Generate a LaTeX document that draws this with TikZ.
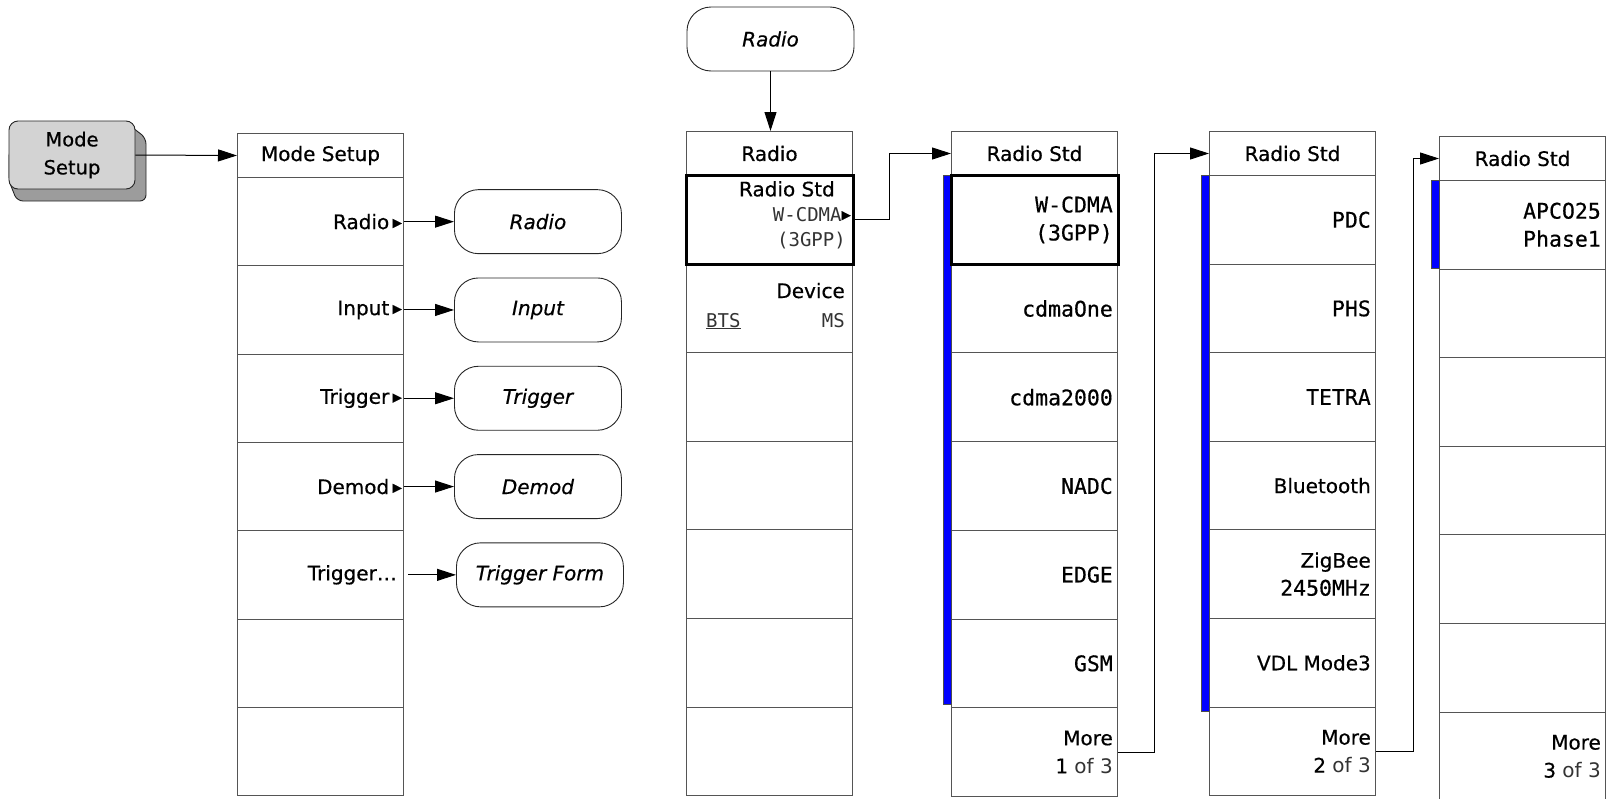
\documentclass[tikz,border=0pt]{standalone}
\usepackage{fontspec}
\setmainfont{DejaVu Sans}[FakeBold=0.5]
\newfontfamily\monof{DejaVu Sans Mono}[FakeBold=0.5]
\newfontfamily\thinf{DejaVu Sans Mono}
\newfontfamily\thinsans{DejaVu Sans}
\usetikzlibrary{arrows.meta}
\definecolor{keyfront}{HTML}{D3D3D3}
\definecolor{keyback}{HTML}{9C9C9C}
\definecolor{barblue}{HTML}{0000FF}
\definecolor{linegray}{HTML}{555555}
\definecolor{thingray}{HTML}{333333}
\newcommand\sansz{\fontsize{20}{28}\selectfont}
\newcommand\monosz{\monof\fontsize{21.5}{28}\selectfont}
\newcommand\thn[1]{{\thinf\color{thingray}#1}}
\newcommand\thns[1]{{\thinsans\color{thingray}#1}}
\newcommand\tri{\raisebox{2.5pt}{\fontsize{12}{12}\selectfont\char"25B6}}
\newcommand\menucol[5]{%
  \node[hdr] (#1-h) at (#2,#3) {#5};
  \foreach \i in {1,...,7}{
    \node[menubox, minimum height=#4pt] (#1-\i) at (#2,{#3+44+(\i-1)*#4}) {};
  }%
}
\begin{document}
\begin{tikzpicture}[x=1pt,y=-1pt,
  menubox/.style={draw=linegray, line width=1pt, minimum width=166pt, inner sep=0pt, anchor=north west},
  hdr/.style={menubox, minimum height=44pt, font=\sansz},
  item/.style={anchor=east, inner sep=0pt, align=right, font=\sansz},
  mitem/.style={item, font=\monosz},
  oval/.style={draw=black!85, line width=0.9pt, rounded corners=24pt, minimum width=167pt, minimum height=64pt, font=\sansz\itshape, inner sep=0pt},
  arr/.style={draw=black, line width=1pt, -{Triangle[length=19pt,width=12pt]}},
  sel/.style={draw=black, line width=3pt},
  bar/.style={fill=barblue, draw=black!70, line width=0.5pt},
  keyface/.style={fill=keyfront, draw=black!85, line width=0.9pt, rounded corners=9pt, minimum width=126pt, minimum height=68pt, align=center, font=\fontsize{19.5}{28}\selectfont, inner sep=0pt}
]
\useasboundingbox (0,0) rectangle (1608,798);

% hardware key
\filldraw[fill=keyback, draw=black!85, line width=0.9pt, rounded corners=6pt]
  (124,121) -- (146,138) -- (146,201) -- (17,201) -- (9,181) -- (9,150) -- cycle;
\node[keyface] (key) at (72,155) {Mode\\Setup};

% menus
\menucol{ms}{237}{133}{88.3}{Mode Setup}
\menucol{rd}{686}{131}{88.6}{Radio}
\menucol{sa}{951}{131}{88.7}{Radio Std}
\menucol{sb}{1209}{131}{88.6}{Radio Std}
\menucol{sc}{1439}{136}{88.6}{Radio Std}

% blue bars
\filldraw[bar] ([xshift=-8pt]sa-1.north west) rectangle ([yshift=4pt]sa-6.south west);
\filldraw[bar] ([xshift=-8pt]sb-1.north west) rectangle ([yshift=-4pt]sb-6.south west);
\filldraw[bar] ([xshift=-8pt]sc-1.north west) rectangle ([yshift=1pt]sc-1.south west);

% selected softkeys
\draw[sel] (rd-1.north west) rectangle (rd-1.south east);
\draw[sel] (sa-1.north west) rectangle (sa-1.south east);

% Mode Setup items
\node[item] (ms-t1) at ([xshift=-2pt]ms-1.east) {Radio\,\tri};
\node[item] (ms-t2) at ([xshift=-2pt]ms-2.east) {Input\,\tri};
\node[item] (ms-t3) at ([xshift=-2pt]ms-3.east) {Trigger\,\tri};
\node[item] (ms-t4) at ([xshift=-2pt]ms-4.east) {Demod\,\tri};
\node[item] (ms-t5) at ([xshift=-7pt]ms-5.east) {Trigger…};

% target ovals
\node[oval, anchor=west] (o1) at ([xshift=50pt]ms-1.east) {Radio};
\node[oval, anchor=west] (o2) at ([xshift=50pt]ms-2.east) {Input};
\node[oval, anchor=west] (o3) at ([xshift=50pt]ms-3.east) {Trigger};
\node[oval, anchor=west] (o4) at ([xshift=50pt]ms-4.east) {Demod};
\node[oval, anchor=west] (o5) at ([xshift=52pt]ms-5.east) {Trigger Form};
\node[oval] (otop) at (770.5,39) {Radio};

% Radio menu items
\node[item, anchor=north east] (rd-t1a) at (835,181) {Radio Std};
\node[item, anchor=north east, font=\fontsize{19}{28}\selectfont] (rd-t1b) at (851,207) {\thn{W-CDMA}\tri};
\node[item, anchor=north east, font=\fontsize{19}{28}\selectfont] (rd-t1c) at (846,232) {\thn{(3GPP)}};
\node[item, anchor=base east] (rd-t2a) at (845,298) {Device};
\node[item, anchor=base west, font=\fontsize{19}{28}\selectfont] (rd-t2b) at (706,327) {\thn{\underline{BTS}}};
\node[item, anchor=base east, font=\fontsize{19}{28}\selectfont] (rd-t2c) at (845,327) {\thn{MS}};

% Radio Std 1 of 3
\node[mitem] (sa-t1) at ([xshift=-5pt]sa-1.east) {W-CDMA\\(3GPP)};
\node[mitem] (sa-t2) at ([xshift=-5pt]sa-2.east) {cdmaOne};
\node[mitem] (sa-t3) at ([xshift=-5pt]sa-3.east) {cdma2000};
\node[mitem] (sa-t4) at ([xshift=-5pt]sa-4.east) {NADC};
\node[mitem] (sa-t5) at ([xshift=-5pt]sa-5.east) {EDGE};
\node[mitem] (sa-t6) at ([xshift=-5pt]sa-6.east) {GSM};
\node[item] (sa-t7) at ([xshift=-5pt]sa-7.east) {More\\1 \thns{of 3}};

% Radio Std 2 of 3
\node[mitem] (sb-t1) at ([xshift=-5pt]sb-1.east) {PDC};
\node[mitem] (sb-t2) at ([xshift=-5pt]sb-2.east) {PHS};
\node[mitem] (sb-t3) at ([xshift=-5pt]sb-3.east) {TETRA};
\node[item] (sb-t4) at ([xshift=-5pt]sb-4.east) {Bluetooth};
\node[item] (sb-t5) at ([xshift=-5pt]sb-5.east) {ZigBee\\{\monosz 2450MHz}};
\node[item] (sb-t6) at ([xshift=-5pt]sb-6.east) {VDL Mode3};
\node[item] (sb-t7) at ([xshift=-5pt]sb-7.east) {More\\2 \thns{of 3}};

% Radio Std 3 of 3
\node[mitem] (sc-t1) at ([xshift=-5pt]sc-1.east) {APCO25\\Phase1};
\node[item] (sc-t7) at ([xshift=-5pt]sc-7.east) {More\\3 \thns{of 3}};

% connectors
\draw[arr] (key.east) -- (ms-h.west);
\draw[arr] (ms-1.east) -- (o1.west);
\draw[arr] (ms-2.east) -- (o2.west);
\draw[arr] (ms-3.east) -- (o3.west);
\draw[arr] (ms-4.east) -- (o4.west);
\draw[arr] ([xshift=4pt]ms-5.east) -- (o5.west);
\draw[arr] (otop.south) -- (otop.south |- rd-h.north);
\draw[arr] (rd-1.east) -- ++(36,0) |- (sa-h.west);
\draw[arr] (sa-7.east) -- ++(36,0) |- (sb-h.west);
\draw[arr] (sb-7.east) -- ++(37,0) |- (sc-h.west);
\end{tikzpicture}
\end{document}
